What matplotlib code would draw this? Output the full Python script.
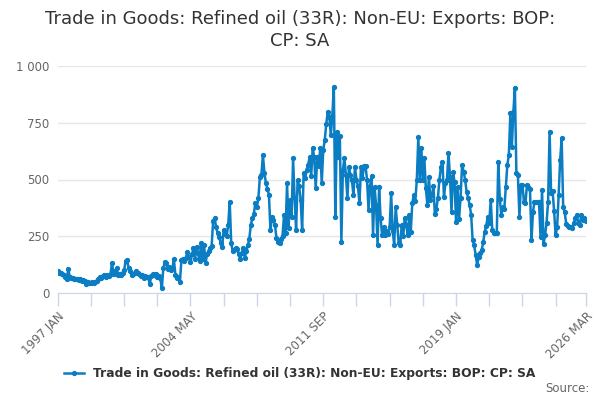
import matplotlib
matplotlib.use("Agg")
import matplotlib.pyplot as plt
from matplotlib.ticker import FuncFormatter
import numpy as np

# monthly values, 1997 JAN .. 2026 MAR
v1997 = [95, 90, 86, 84, 80, 70, 62, 104, 72, 66, 64, 62]
v1998 = [62, 60, 58, 60, 55, 58, 52, 38, 48, 42, 45, 48]
v1999 = [45, 50, 55, 60, 72, 68, 75, 80, 70, 78, 75, 85]
v2000 = [131, 85, 95, 110, 80, 85, 78, 90, 100, 140, 145, 110]
v2001 = [95, 80, 85, 90, 95, 90, 85, 75, 80, 65, 75, 70]
v2002 = [72, 38, 75, 82, 80, 85, 70, 75, 65, 20, 110, 135]
v2003 = [130, 105, 115, 100, 110, 148, 80, 65, 72, 50, 145, 150]
v2004 = [140, 155, 180, 160, 135, 170, 198, 150, 204, 175, 140, 219]
v2005 = [150, 210, 133, 170, 185, 200, 205, 315, 329, 290, 263, 247]
v2006 = [220, 204, 277, 260, 250, 300, 402, 219, 185, 190, 200, 195]
v2007 = [170, 150, 175, 200, 155, 185, 210, 240, 300, 330, 350, 395]
v2008 = [380, 417, 512, 520, 608, 530, 483, 460, 432, 277, 335, 320]
v2009 = [300, 241, 226, 222, 240, 250, 344, 265, 483, 288, 410, 335]
v2010 = [593, 420, 277, 498, 470, 410, 277, 527, 505, 542, 565, 600]
v2011 = [515, 637, 600, 461, 597, 560, 637, 483, 630, 674, 745, 799]
v2012 = [777, 696, 778, 909, 336, 711, 601, 690, 226, 542, 593, 520]
v2013 = [417, 555, 520, 497, 430, 555, 500, 470, 395, 556, 507, 560]
v2014 = [560, 500, 366, 470, 515, 256, 468, 386, 211, 468, 330, 255]
v2015 = [290, 255, 275, 260, 290, 439, 275, 213, 380, 300, 220, 211]
v2016 = [300, 250, 330, 300, 255, 345, 270, 395, 430, 405, 498, 686]
v2017 = [500, 637, 498, 593, 461, 388, 512, 410, 430, 470, 346, 372]
v2018 = [420, 500, 556, 578, 424, 485, 500, 615, 510, 358, 534, 490]
v2019 = [314, 468, 325, 420, 564, 535, 500, 446, 420, 388, 345, 233]
v2020 = [211, 167, 123, 160, 175, 189, 224, 270, 295, 336, 310, 410]
v2021 = [278, 263, 263, 263, 578, 415, 344, 378, 372, 468, 564, 608]
v2022 = [791, 645, 799, 905, 527, 520, 336, 476, 476, 402, 395, 476]
v2023 = [468, 460, 233, 358, 402, 402, 400, 402, 245, 453, 215, 255]
v2024 = [310, 400, 711, 440, 450, 360, 255, 290, 430, 586, 681, 380]
v2025 = [358, 305, 295, 290, 290, 285, 308, 330, 344, 310, 300, 344]
v2026 = [320, 330, 315]

values = (v1997 + v1998 + v1999 + v2000 + v2001 + v2002 + v2003 + v2004 + v2005
          + v2006 + v2007 + v2008 + v2009 + v2010 + v2011 + v2012 + v2013 + v2014
          + v2015 + v2016 + v2017 + v2018 + v2019 + v2020 + v2021 + v2022 + v2023
          + v2024 + v2025 + v2026)

month_names = ["JAN", "FEB", "MAR", "APR", "MAY", "JUN",
               "JUL", "AUG", "SEP", "OCT", "NOV", "DEC"]
labels = [f"{1997 + i // 12} {month_names[i % 12]}" for i in range(len(values))]
shown_labels = ["1997 JAN", "2004 MAY", "2011 SEP", "2019 JAN", "2026 MAR"]

series_name = "Trade in Goods: Refined oil (33R): Non-EU: Exports: BOP: CP: SA"
title = "Trade in Goods: Refined oil (33R): Non-EU: Exports: BOP:\nCP: SA"

blue = "#0b7dc2"
grey_txt = "#666666"
axis_col = "#ccd6eb"

x = np.arange(len(values))

fig = plt.figure(figsize=(6, 4), dpi=100)
ax = fig.add_axes([57.7 / 600, 1 - 293 / 400, (585.8 - 57.7) / 600, (293 - 66) / 400])

ax.plot(x, values, color=blue, lw=1.8, marker="o", ms=2.8, mec=blue, mfc=blue,
        label=series_name, zorder=3)

ax.set_xlim(0, len(values) - 1)
ax.set_ylim(0, 1000)
ax.set_yticks([0, 250, 500, 750, 1000])
ax.yaxis.set_major_formatter(FuncFormatter(lambda v, p: f"{int(v):,}".replace(",", " ")))
ax.grid(axis="y", color="#e6e6e6", lw=1)
ax.set_axisbelow(True)

minor = list(range(0, len(values), 22)) + [len(values) - 1]
ax.set_xticks(minor, minor=True)
major = [labels.index(s) for s in shown_labels]
ax.set_xticks(major)
ax.set_xticklabels(shown_labels, rotation=45, ha="right", rotation_mode="anchor")
ax.tick_params(axis="x", which="both", length=9, color=axis_col, width=1,
               labelsize=8.5, labelcolor=grey_txt, pad=3)
ax.tick_params(axis="y", length=0, labelsize=8.5, labelcolor=grey_txt, pad=6)

for s in ["top", "right", "left"]:
    ax.spines[s].set_visible(False)
ax.spines["bottom"].set_color(axis_col)

fig.text(0.5, 0.925, title, ha="center", va="center", fontsize=13,
         color="#333333", linespacing=1.3)

leg = fig.legend(loc="center", bbox_to_anchor=(0.5, 1 - 374 / 400), frameon=False,
                 fontsize=8.8, handlelength=1.6, labelcolor="#333333")
for t in leg.get_texts():
    t.set_fontweight("bold")

fig.text(0.982, 1 - 389 / 400, "Source:", ha="right", va="center", fontsize=8.5,
         color=grey_txt)

fig.savefig("out.png", dpi=100)
